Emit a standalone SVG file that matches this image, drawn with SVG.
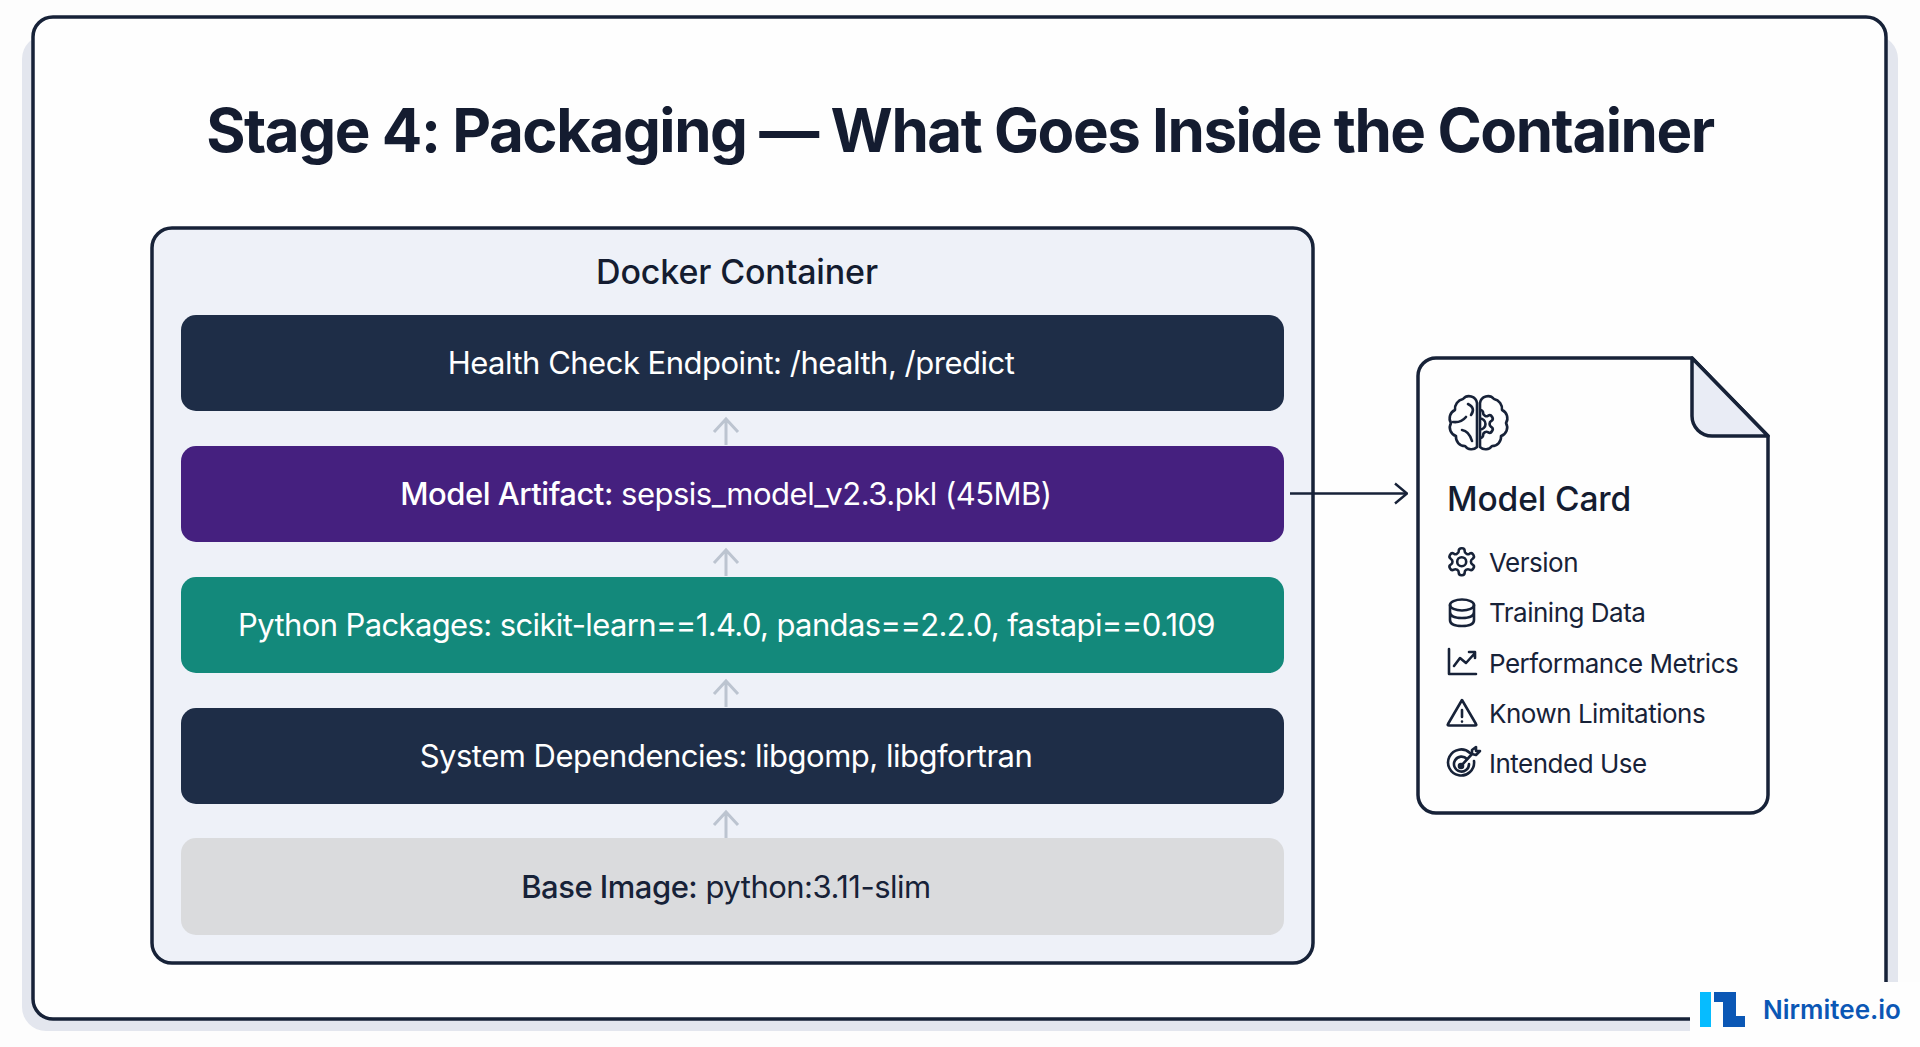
<svg xmlns="http://www.w3.org/2000/svg" width="1920" height="1047" viewBox="0 0 1920 1047">
<style>
text{font-family:Inter,"Liberation Sans",sans-serif}
.bar{stroke:none}
.lbl{font-size:31px;text-anchor:middle;fill:#fff;font-weight:400;letter-spacing:-.5px}
.b{font-weight:500}
.it{font-size:26px;fill:#172238;letter-spacing:-.5px}
.ic{fill:none;stroke:#172238;stroke-width:2.6;stroke-linecap:round;stroke-linejoin:round}
.up{fill:none;stroke:#bcc4d0;stroke-width:3}
</style>
<defs>
<path id="gear" d="M12.22 2h-.44a2 2 0 0 0-2 2v.18a2 2 0 0 1-1 1.73l-.43.25a2 2 0 0 1-2 0l-.15-.08a2 2 0 0 0-2.73.73l-.22.38a2 2 0 0 0 .73 2.73l.15.1a2 2 0 0 1 1 1.72v.51a2 2 0 0 1-1 1.74l-.15.09a2 2 0 0 0-.73 2.73l.22.38a2 2 0 0 0 2.73.73l.15-.08a2 2 0 0 1 2 0l.43.25a2 2 0 0 1 1 1.73V20a2 2 0 0 0 2 2h.44a2 2 0 0 0 2-2v-.18a2 2 0 0 1 1-1.73l.43-.25a2 2 0 0 1 2 0l.15.08a2 2 0 0 0 2.73-.73l.22-.39a2 2 0 0 0-.73-2.73l-.15-.08a2 2 0 0 1-1-1.74v-.5a2 2 0 0 1 1-1.74l.15-.09a2 2 0 0 0 .73-2.73l-.22-.38a2 2 0 0 0-2.73-.73l-.15.08a2 2 0 0 1-2 0l-.43-.25a2 2 0 0 1-1-1.73V4a2 2 0 0 0-2-2z"/>
<clipPath id="rh"><rect x="1479" y="390" width="40" height="70"/></clipPath>
<marker id="open" viewBox="0 0 16 24" refX="15" refY="12" markerWidth="16" markerHeight="24" markerUnits="userSpaceOnUse" orient="auto"><path d="M3 2 L15 12 L3 22" fill="none" stroke="#172238" stroke-width="2.4"/></marker>
</defs>
<rect width="1920" height="1047" fill="#fdfdfd"/>
<g id="frame">
<rect x="22" y="35" width="1876" height="996" rx="24" fill="#e3e6ee"/>
<rect x="33" y="17" width="1853" height="1002" rx="20" fill="#fefefe" stroke="#172238" stroke-width="3.5"/>
</g>
<text id="title" x="960" y="152" text-anchor="middle" font-size="60" font-weight="700" fill="#141c30" letter-spacing="-1.45">Stage 4: Packaging — What Goes Inside the Container</text>
<g id="container">
<rect x="152" y="228" width="1161" height="735" rx="20" fill="#eef1f8" stroke="#172238" stroke-width="3.5"/>
<text x="737" y="284" text-anchor="middle" font-size="34" font-weight="500" fill="#141c30" letter-spacing="-.15">Docker Container</text>
</g>
<g id="connectors">
<path class="up" d="M726 445V420M714 432L726 419L738 432"/>
<path class="up" d="M726 576V551M714 563L726 550L738 563"/>
<path class="up" d="M726 707V682M714 694L726 681L738 694"/>
<path class="up" d="M726 838V813M714 825L726 812L738 825"/>
<path d="M1290 493.500H1407" fill="none" stroke="#172238" stroke-width="2.400" marker-end="url(#open)"/>
</g>
<g id="health"><rect class="bar" x="181" y="315" width="1103" height="96" rx="15" fill="#1e2d47"/><text class="lbl" x="731" y="374">Health Check Endpoint: /health, /predict</text></g>
<g id="artifact"><rect class="bar" x="181" y="446" width="1103" height="96" rx="15" fill="#45207f"/><text class="lbl" x="726" y="505"><tspan class="b">Model Artifact:</tspan> sepsis_model_v2.3.pkl (45MB)</text></g>
<g id="packages"><rect class="bar" x="181" y="577" width="1103" height="96" rx="15" fill="#13897b"/><text class="lbl" x="726.500" y="636" style="letter-spacing:-.62px">Python Packages: scikit-learn==1.4.0, pandas==2.2.0, fastapi==0.109</text></g>
<g id="system"><rect class="bar" x="181" y="708" width="1103" height="96" rx="15" fill="#1e2d47"/><text class="lbl" x="726" y="767">System Dependencies: libgomp, libgfortran</text></g>
<g id="base"><rect class="bar" x="181" y="838" width="1103" height="97" rx="15" fill="#dadbdd"/><text class="lbl" x="726" y="898" style="fill:#172238"><tspan class="b">Base Image:</tspan> python:3.11-slim</text></g>
<g id="model-card">
<path d="M1436 358H1692L1768 436V795A18 18 0 0 1 1750 813H1436A18 18 0 0 1 1418 795V376A18 18 0 0 1 1436 358Z" fill="#fefefe" stroke="#172238" stroke-width="3.500"/>
<path d="M1692 358V416A20 20 0 0 0 1712 436H1768Z" fill="#e9ecf5" stroke="#172238" stroke-width="3.500" stroke-linejoin="round"/>
<g class="ic" id="brain">
<path d="M1477 403A8 8 0 0 0 1463 399A10 10 0 0 0 1455 410A9 9 0 0 0 1451 423A9 9 0 0 0 1456 436A9 9 0 0 0 1465 446A8 8 0 0 0 1477 447Z"/>
<path d="M1480 403A8 8 0 0 1 1494 399A10 10 0 0 1 1502 410A9 9 0 0 1 1506 423A9 9 0 0 1 1501 436A9 9 0 0 1 1492 446A8 8 0 0 1 1480 447Z"/>
<path d="M1468 404Q1476 408 1471 415M1453 422Q1461 423 1466 417M1462 430Q1469 431 1472 441"/>
<g clip-path="url(#rh)"><use href="#gear" transform="translate(1463.200 407.200) scale(1.400)" stroke-width="1.900"/><circle cx="1480" cy="424" r="5.500"/></g>
</g>
<text x="1447" y="511" font-size="33.500" font-weight="500" fill="#141c30" letter-spacing="-.1">Model Card</text>
<g class="ic" id="i-version"><use href="#gear" transform="translate(1445.500 545.500) scale(1.35)" stroke-width="1.900"/><circle cx="1461.700" cy="561.700" r="4.500"/></g>
<text class="it" x="1489" y="572">Version</text>
<g class="ic" id="i-data"><ellipse cx="1462" cy="605" rx="12" ry="5.500"/><path d="M1450 605V620Q1450 626 1462 626Q1474 626 1474 620V605M1450 612Q1450 618 1462 618Q1474 618 1474 612"/></g>
<text class="it" x="1489" y="622">Training Data</text>
<g class="ic" id="i-chart"><path d="M1449 649V674H1476M1454 666L1460 658L1466 663L1475 653M1469 652H1475V658"/></g>
<text class="it" x="1489" y="673">Performance Metrics</text>
<g class="ic" id="i-warn"><path d="M1462 700L1476 724Q1477 725.500 1475 725.500H1449Q1447 725.500 1448 724Z"/><path d="M1462 710V717M1462 721.500V721.600"/></g>
<text class="it" x="1489" y="723">Known Limitations</text>
<g class="ic" id="i-use"><path d="M1470 753A13 13 0 1 0 1474 761"/><path d="M1467 759A7.500 7.500 0 1 0 1469 764"/><circle cx="1461" cy="766" r="2"/><path d="M1461 766L1472 754M1472 754L1472 750L1476 747L1476 751L1480 751L1476 755Z"/></g>
<text class="it" x="1489" y="773">Intended Use</text>
</g>
<g id="logo">
<rect x="1690" y="982" width="230" height="65" fill="#fefefe"/>
<rect x="1700" y="992" width="11" height="35" fill="#06bcff"/>
<path d="M1714 992H1736V1016H1745V1027H1723V1002H1714Z" fill="#0b57b5"/>
<text x="1763" y="1019" font-size="26" font-weight="600" fill="#0b57b5">Nirmitee.io</text>
</g>
</svg>
